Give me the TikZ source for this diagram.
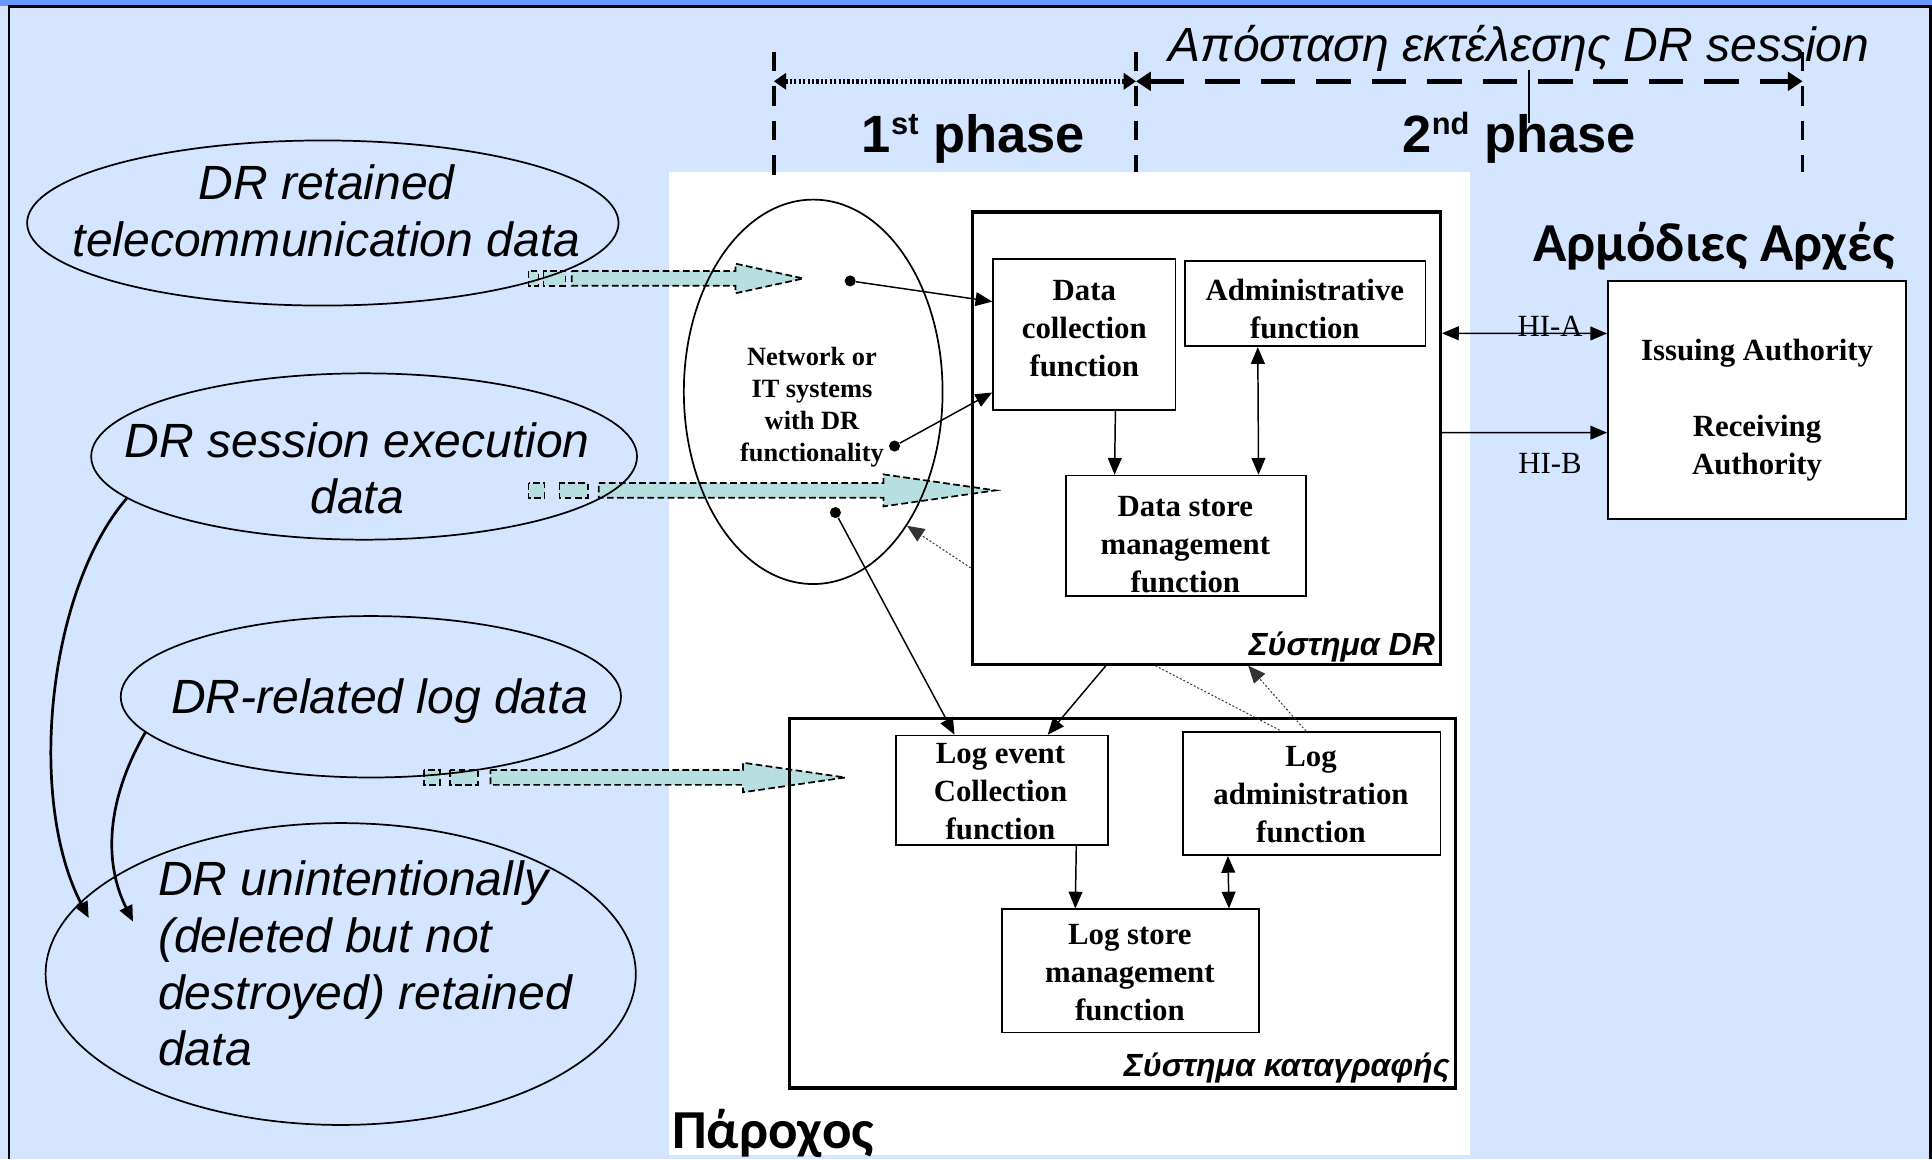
\documentclass[tikz,border=0pt]{standalone}
\usepackage{fontspec}
\setmainfont{Liberation Serif}
\newfontfamily\arialfont{Liberation Sans}
\newfontfamily\headfont{Carlito}
\usetikzlibrary{arrows.meta,shapes.geometric,calc,fit}

\definecolor{paneblue}{RGB}{212,229,255}
\definecolor{bandblue}{RGB}{102,153,255}
\definecolor{flowteal}{RGB}{183,223,224}

% thick dashed "data flow" arrow: shaft start, head start, tip, centre line, head half-height
\newcommand\flowarrow[5]{%
  \filldraw[flow] (#1,#4-6) -- (#2,#4-6) -- (#2,#4-#5) -- (#3,#4) -- (#2,#4+#5)
    -- (#2,#4+6) -- (#1,#4+6) -- cycle;}
% small raised ordinal suffix
\newcommand\ordsuffix[1]{\raisebox{7.5pt}{\fontsize{12.5}{13}\selectfont #1}}

\begin{document}
\begin{tikzpicture}[x=0.5pt,y=-0.5pt,
  conn/.style={line width=0.6pt,-{Triangle[length=6.8pt,width=5.6pt]}},
  bothconn/.style={line width=0.6pt,{Triangle[length=6.8pt,width=5.6pt]}-{Triangle[length=6.8pt,width=5.6pt]}},
  hint/.style={line width=0.4pt,dash pattern=on 0.8pt off 0.8pt,black!80},
  fnbox/.style={draw,line width=0.7pt,fill=white,inner sep=0pt},
  sysbox/.style={draw,line width=1.3pt,inner sep=0pt},
  fntext/.style={font=\bfseries\fontsize{12.5}{15.5}\selectfont,align=center,inner sep=0pt},
  nettext/.style={font=\bfseries\fontsize{10.7}{13}\selectfont,align=center,inner sep=0pt},
  bigital/.style={font=\arialfont\itshape\fontsize{19.5}{23}\selectfont,align=center,inner sep=0pt},
  phasetext/.style={font=\arialfont\bfseries\fontsize{21.3}{25}\selectfont,inner sep=0pt},
  headtext/.style={font=\headfont\bfseries\fontsize{22.3}{26}\selectfont,inner sep=0pt},
  syslabel/.style={font=\arialfont\bfseries\itshape\fontsize{13}{15}\selectfont,inner sep=0pt},
  hitext/.style={font=\fontsize{12.5}{15}\selectfont,inner sep=0pt},
  dataell/.style={draw,ellipse,line width=0.7pt,inner sep=0pt},
  flow/.style={fill=flowteal,draw,line width=0.7pt,dash pattern=on 2.7pt off 1.4pt},
  phaseline/.style={line width=1.5pt,dash pattern=on 8pt off 6pt},
  dotnode/.style={circle,fill,inner sep=0pt,minimum size=4.5pt}]

% panel background and frame
\useasboundingbox (0,0) rectangle (1568,941);
\fill[paneblue] (0,0) rectangle (1568,941);
\fill[bandblue] (0,0) rectangle (1568,4.5);
\draw[line width=1.1pt] (7.2,941) -- (7.2,5.2) -- (1566.6,5.2) -- (1566.6,941);

% provider area
\fill[white] (543,140) rectangle (1193,937);

% phase markers
\coordinate (m0) at (628,66);
\coordinate (m1) at (922,66);
\coordinate (m2) at (1463,66);
\draw[phaseline] (628,42) -- (628,145);
\draw[phaseline] (922,42) -- (922,140);
\draw[phaseline] (1463,42) -- (1463,140);
\draw[line width=1pt] (1241,57) -- (1241,100);
\draw[line width=2pt,dash pattern=on 0.9pt off 0.9pt,
  {Triangle[length=5pt,width=6.5pt]}-{Triangle[length=5pt,width=6.5pt]}] (m0) -- (m1);
\draw[line width=2pt,dash pattern=on 14pt off 8.5pt,
  {Triangle[length=6pt,width=7.5pt]}-{Triangle[length=6pt,width=7.5pt]}] (m1) -- (m2);

\node[phasetext,anchor=base] (ph1) at (790,124) {1\ordsuffix{st} phase};
\node[phasetext,anchor=base] (ph2) at (1233,124) {2\ordsuffix{nd} phase};
\node[bigital,anchor=base] (dist) at (1233,50) {Απόσταση εκτέλεσης DR session};

% data flow arrows
\filldraw[flow] (429,220) rectangle (437,232);
\filldraw[flow] (441,220) rectangle (459,232);
\flowarrow{464}{597}{652}{226}{12}
\filldraw[flow] (429,392) rectangle (442,404);
\filldraw[flow] (454,392) rectangle (477,404);
\flowarrow{486}{717}{808}{398}{13}
\filldraw[flow] (344,625) rectangle (357,637);
\filldraw[flow] (365,625) rectangle (388,637);
\flowarrow{398}{603}{686}{631}{12}

% data categories
\node[dataell,minimum width=240pt,minimum height=67pt] (e1) at (262,181) {};
\node[dataell,minimum width=221.5pt,minimum height=67.5pt] (e2) at (295.5,370.5) {};
\node[dataell,minimum width=203pt,minimum height=65.5pt] (e3) at (301,565.5) {};
\node[dataell,minimum width=239.5pt,minimum height=122.5pt] (e4) at (276.5,790.5) {};
\node[bigital] (t1) at (265,171) {DR retained\\telecommunication data};
\node[bigital] (t2) at (290,380) {DR session execution\\data};
\node[bigital] (t3) at (308,569) {DR-related log data};
\node[bigital,align=left,anchor=west] (t4) at (128,782)
  {DR unintentionally\\(deleted but not\\destroyed) retained\\data};

\coordinate (c1) at (72,745);
\coordinate (c2) at (108,748);
\draw[line width=1.1pt,-{Triangle[length=6.5pt,width=5.5pt]}]
  (e2.190) .. controls (38,480) and (22,650) .. (c1);
\draw[line width=1.1pt,-{Triangle[length=6.5pt,width=5.5pt]}]
  (e3.189) .. controls (86,650) and (84,700) .. (c2);

% network or IT systems
\node[dataell,minimum width=105pt,minimum height=156pt] (net) at (660,318) {};
\node[nettext] (nett) at (659,330.5) {Network or\\IT systems\\with DR\\functionality};
\node[dotnode] (p1) at (690,228) {};
\node[dotnode] (p2) at (726,362) {};
\node[dotnode] (p3) at (678,416) {};

% DR system
\node[sysbox,fit={(789,172)(1169,539)}] (drs) {};
\node[fnbox,fit={(806,210)(954,333)}] (dc) {};
\node[fnbox,fit={(962,212)(1157,281)}] (adm) {};
\node[fnbox,fit={(865,386)(1060,484)}] (dsm) {};
\node[fntext] (dct) at (880,266.5) {Data\\collection\\function};
\node[fntext] (admt) at (1059,251) {Administrative\\function};
\node[fntext] (dsmt) at (962,442) {Data store\\management\\function};
\node[syslabel,anchor=base east] (drl) at (1165,532) {Σύστημα DR};

% logging system
\node[sysbox,fit={(641,583)(1181,883)}] (lgs) {};
\node[fnbox,fit={(727,597)(899,686)}] (lec) {};
\node[fnbox,fit={(960,594)(1169,694)}] (lad) {};
\node[fnbox,fit={(813,738)(1022,838)}] (lsm) {};
\node[fntext] (lect) at (812,642.5) {Log event\\Collection\\function};
\node[fntext] (ladt) at (1064,645) {Log\\administration\\function};
\node[fntext] (lsmt) at (917,789.5) {Log store\\management\\function};
\node[syslabel,anchor=base east] (lgl) at (1177,874) {Σύστημα καταγραφής};

% authorities
\node[fnbox,fit={(1305,228)(1547,421)}] (auth) {};
\node[fntext] (autht) at (1426,333) {Issuing Authority\\[15.5pt]Receiving\\Authority};
\node[headtext,anchor=base] (authl) at (1391,212) {Αρμόδιες Αρχές};
\node[headtext,anchor=base west] (provl) at (545,932) {Πάροχος};

% connectors
\draw[conn] (p1) -- ($(dc.north west)!0.285!(dc.south west)$);
\draw[conn] (p2) -- ($(dc.north west)!0.878!(dc.south west)$);
\draw[conn] (p3) -- ($(lec.north west)!0.279!(lec.north east)$);
\draw[conn] ($(dc.south west)!0.669!(dc.south east)$) -- ($(dsm.north west)!0.205!(dsm.north east)$);
\draw[bothconn] ($(adm.south west)!0.303!(adm.south east)$) -- ($(dsm.north west)!0.8!(dsm.north east)$);
\draw[conn] ($(drs.south west)!0.287!(drs.south east)$) -- ($(lec.north west)!0.715!(lec.north east)$);
\draw[conn] ($(lec.south west)!0.849!(lec.south east)$) -- ($(lsm.north west)!0.287!(lsm.north east)$);
\draw[bothconn] ($(lad.south west)!0.177!(lad.south east)$) -- ($(lsm.north west)!0.880!(lsm.north east)$);
\draw[bothconn] ($(drs.north east)!0.27!(drs.south east)$) -- ($(auth.north west)!0.223!(auth.south west)$);
\draw[conn] ($(drs.north east)!0.488!(drs.south east)$) -- ($(auth.north west)!0.637!(auth.south west)$);
\node[hitext,anchor=base] (hia) at (1258,273) {HI-A};
\node[hitext,anchor=base] (hib) at (1258,384) {HI-B};

% dotted feedback links
\draw[hint,-{Triangle[length=7pt,width=6pt]}] ($(drs.north west)!0.785!(drs.south west)$) -- (net.-55);
\draw[hint] ($(drs.south west)!0.392!(drs.south east)$) -- ($(lad.north west)!0.383!(lad.north east)$);
\draw[hint,-{Triangle[length=7pt,width=6pt]}] ($(lad.north west)!0.478!(lad.north east)$) -- ($(drs.south west)!0.589!(drs.south east)$);
\end{tikzpicture}
\end{document}
